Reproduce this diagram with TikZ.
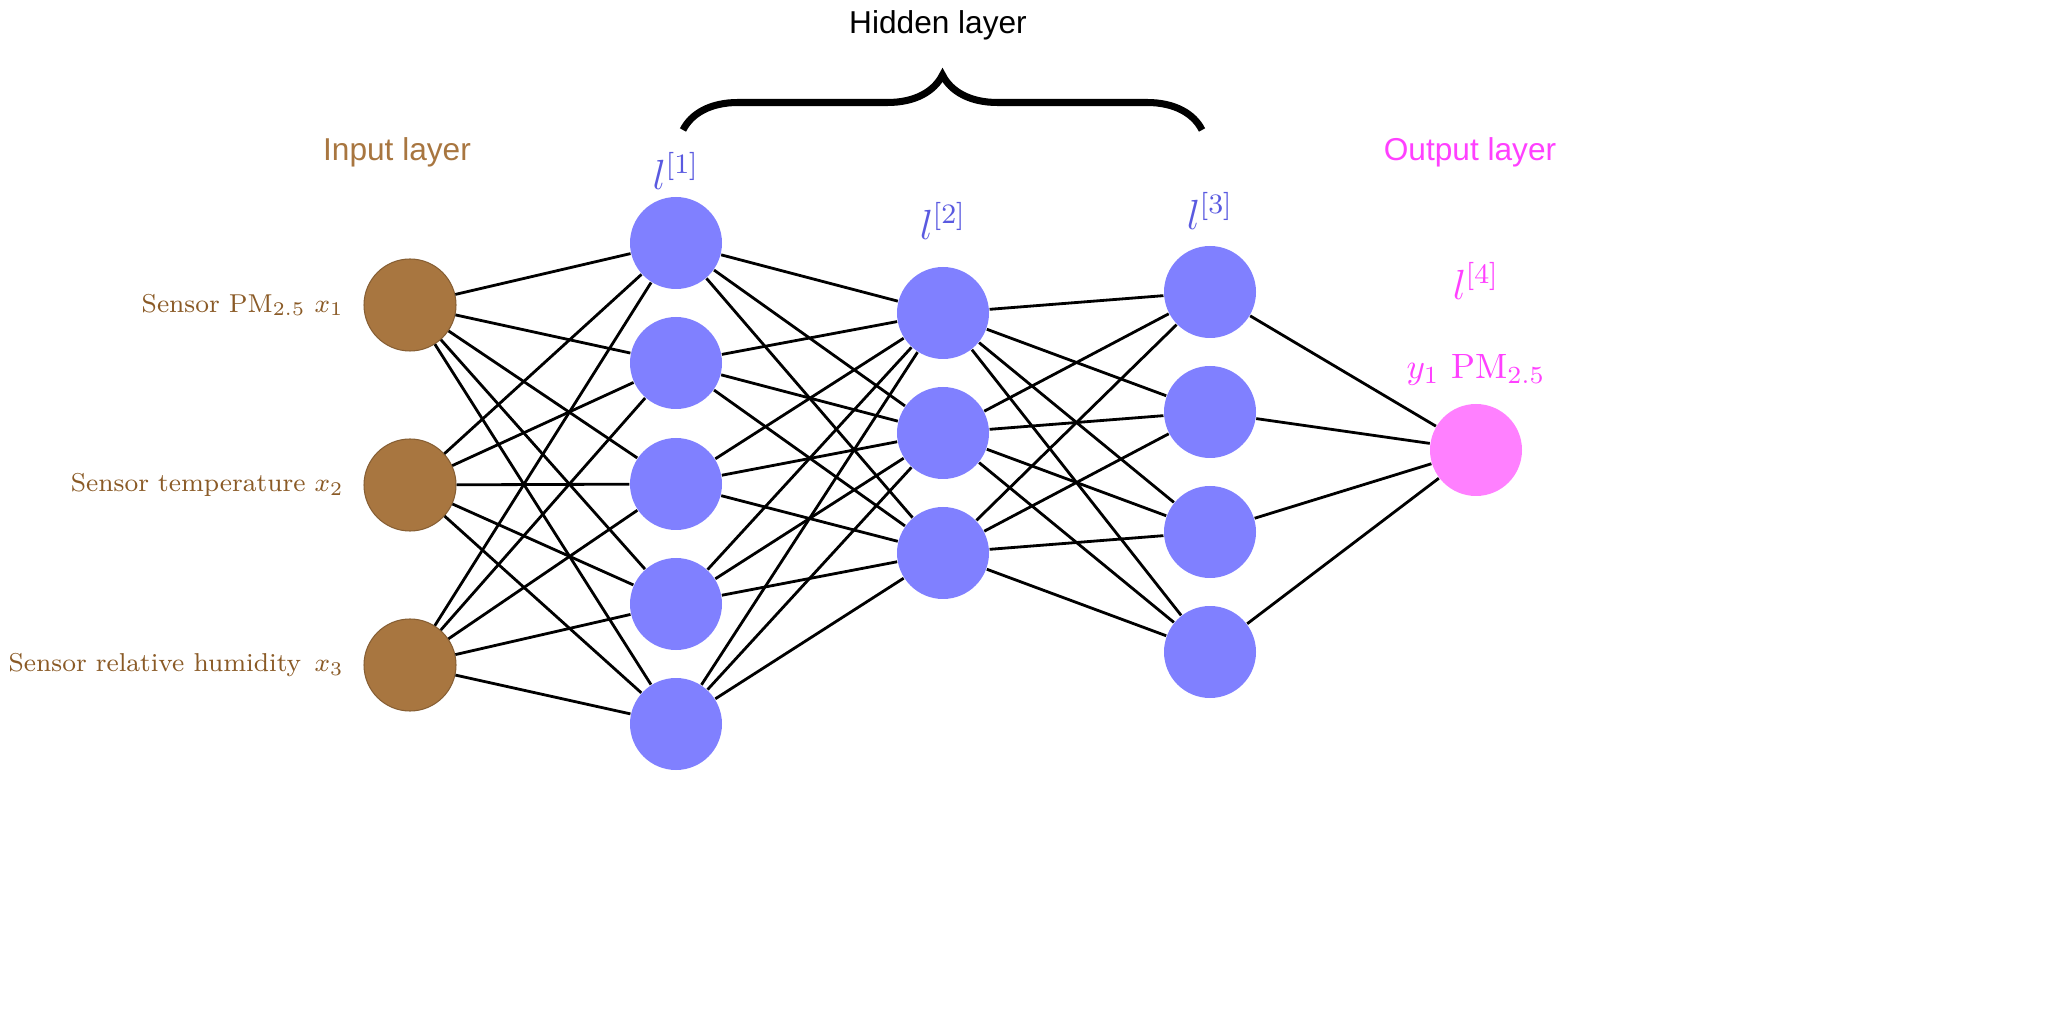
\documentclass[tikz,border=0pt]{standalone}
\usepackage{fontspec}
\setmainfont{Latin Modern Roman}
\newfontfamily\labelsans{Liberation Sans}
\usepackage{xcolor}
\usetikzlibrary{decorations.pathreplacing}
\definecolor{inbrown}{HTML}{A87640}
\definecolor{intext}{HTML}{8A5A26}
\definecolor{hidblue}{HTML}{8080FF}
\definecolor{hidtext}{HTML}{5A5AE0}
\definecolor{outpink}{HTML}{FF80FF}
\definecolor{outtext}{HTML}{FF40FF}

\begin{document}
\begin{tikzpicture}[
  neuron/.style={circle, minimum size=0.92cm, inner sep=0pt},
  inp/.style={neuron, fill=inbrown, draw=inbrown!80!black, line width=0.3pt},
  hid/.style={neuron, fill=hidblue},
  outp/.style={neuron, fill=outpink},
  conn/.style={line width=0.8pt, black},
  laytitle/.style={font=\labelsans\fontsize{9}{11}\selectfont},
  laymark/.style={font=\fontsize{11.5}{13}\selectfont},
  feat/.style={font=\fontsize{8}{10}\selectfont, text=intext, anchor=east,
    scale=0.92, transform shape}
]
  \useasboundingbox (0,0) rectangle (20.67,10.33);

  % input layer
  \foreach \i/\y in {1/7.28,2/5.48,3/3.68}
    \node[inp] (I\i) at (4.10,\y) {};
  % hidden layers
  \foreach \i/\y in {1/7.90,2/6.70,3/5.49,4/4.29,5/3.09}
    \node[hid] (A\i) at (6.76,\y) {};
  \foreach \i/\y in {1/7.20,2/6.00,3/4.80}
    \node[hid] (B\i) at (9.43,\y) {};
  \foreach \i/\y in {1/7.41,2/6.21,3/5.01,4/3.81}
    \node[hid] (C\i) at (12.10,\y) {};
  % output layer
  \node[outp] (O1) at (14.76,5.83) {};

  \foreach \i in {1,2,3}
    \foreach \j in {1,...,5}
      \draw[conn] (I\i) -- (A\j);
  \foreach \i in {1,...,5}
    \foreach \j in {1,2,3}
      \draw[conn] (A\i) -- (B\j);
  \foreach \i in {1,2,3}
    \foreach \j in {1,...,4}
      \draw[conn] (B\i) -- (C\j);
  \foreach \i in {1,...,4}
    \draw[conn] (C\i) -- (O1);

  % labels
  \node[feat] (F1) at (3.55,7.28) {Sensor PM$_{2.5}$ $x_1$};
  \node[feat] (F2) at (3.55,5.48) {Sensor temperature $x_2$};
  \node[feat] (F3) at (3.55,3.68) {Sensor relative humidity\,\ $x_3$};
  \node[laymark, text=hidtext] (L1) at (6.76,8.62) {$l^{[1]}$};
  \node[laymark, text=hidtext] (L2) at (9.43,8.12) {$l^{[2]}$};
  \node[laymark, text=hidtext] (L3) at (12.10,8.22) {$l^{[3]}$};
  \node[laymark, text=outtext] (L4) at (14.76,7.52) {$l^{[4]}$};
  \node[font=\fontsize{10}{12}\selectfont, text=outtext] (Y1) at (14.76,6.63) {$y_1$ PM$_{2.5}$};

  \node[laytitle, text=inbrown] (TI) at (3.97,8.81) {Input layer};
  \node[laytitle, text=outtext] (TO) at (14.70,8.81) {Output layer};
  \node[laytitle] (TH) at (9.38,10.08) {Hidden layer};

  \draw[line width=2pt, decorate, decoration={brace, amplitude=0.55cm}]
    (6.83,9.03) -- (12.02,9.03);
\end{tikzpicture}
\end{document}
